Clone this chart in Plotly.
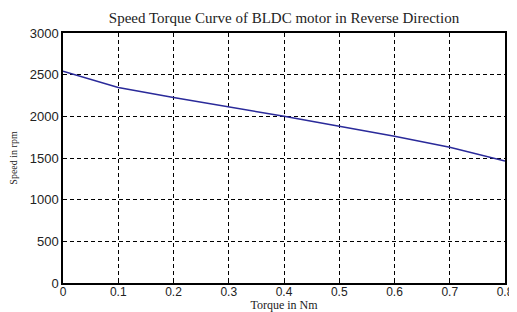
import plotly.graph_objects as go

torque = [0.0, 0.1, 0.2, 0.3, 0.4, 0.5, 0.6, 0.7, 0.8]
speed = [2540, 2345, 2225, 2115, 2000, 1880, 1760, 1630, 1465]

x_ticks = [0, 0.1, 0.2, 0.3, 0.4, 0.5, 0.6, 0.7, 0.8]
x_labels = ["0", "0.1", "0.2", "0.3", "0.4", "0.5", "0.6", "0.7", "0.8"]
y_ticks = [0, 500, 1000, 1500, 2000, 2500, 3000]
y_labels = ["0", "500", "1000", "1500", "2000", "2500", "3000"]

fig = go.Figure()
fig.add_trace(go.Scatter(x=torque, y=speed, mode="lines",
                         line=dict(color="#2a2a9a", width=1.5), showlegend=False))

axis_common = dict(showline=True, linecolor="black", linewidth=1.5, mirror=True,
                   showgrid=True, gridcolor="black", griddash="4px,3px", gridwidth=1,
                   zeroline=False, ticks="inside", ticklen=4, tickcolor="black",
                   automargin=False)

fig.update_xaxes(range=[0, 0.8], tickvals=x_ticks, ticktext=x_labels,
                 tickfont=dict(family="Liberation Sans, Arial", size=12, color="#222"),
                 ticklabelstandoff=-3,
                 title=dict(text="Torque in Nm", standoff=0,
                            font=dict(family="Liberation Serif, Times New Roman", size=12, color="#222")),
                 **axis_common)
fig.update_yaxes(range=[0, 3000], tickvals=y_ticks, ticktext=y_labels,
                 tickfont=dict(family="Liberation Sans, Arial", size=13, color="#222"),
                 title=dict(text="Speed in rpm", standoff=11,
                            font=dict(family="Liberation Serif, Times New Roman", size=10, color="#222")),
                 **axis_common)

fig.update_layout(
    width=509, height=304,
    margin=dict(l=55, r=12, t=25, b=29),
    paper_bgcolor="white", plot_bgcolor="white",
    title=dict(text="Speed Torque Curve of BLDC motor in Reverse Direction",
               xref="paper", x=0.5, xanchor="center", y=0.967, yanchor="middle",
               font=dict(family="Liberation Serif, Times New Roman", size=15, color="#222")),
)

fig.write_html("out.html")
